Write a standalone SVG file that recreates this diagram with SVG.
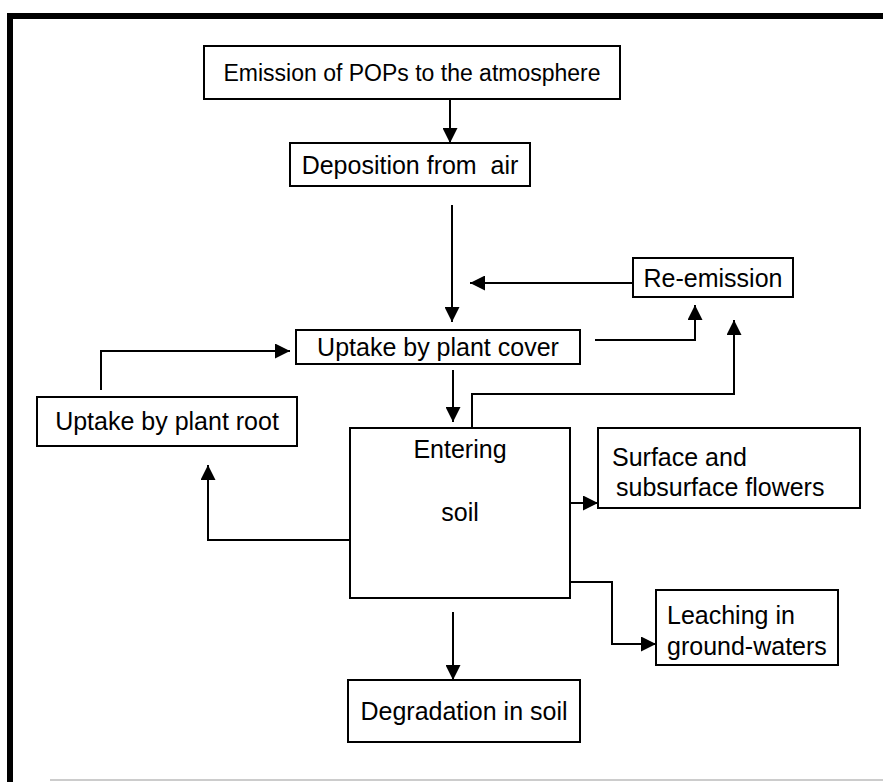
<svg xmlns="http://www.w3.org/2000/svg" width="883" height="782" viewBox="0 0 883 782">
<defs>
<marker id="ah" viewBox="0 0 10 10" refX="10" refY="5" markerWidth="15" markerHeight="15" markerUnits="userSpaceOnUse" orient="auto">
<path d="M0,0 L10,5 L0,10 Z" fill="#000"/>
</marker>
<style>
.box{fill:#fff;stroke:#000;stroke-width:2}
.t{font-family:"Liberation Sans",Arial,sans-serif;font-size:25px;fill:#000}
.s{font-size:23px}
.c{stroke:#000;stroke-width:2;fill:none;marker-end:url(#ah)}
</style>
</defs>
<rect width="883" height="782" fill="#fff"/>
<g id="frame">
<path d="M7,16 H883" stroke="#000" stroke-width="6"/>
<path d="M10,13 V782" stroke="#000" stroke-width="6"/>
<path d="M50,780 H883" stroke="#ccc" stroke-width="2"/>
</g>
<g id="emission"><rect class="box" x="204" y="46" width="416" height="53"/><text class="t s" x="412" y="81" text-anchor="middle">Emission of POPs to the atmosphere</text></g>
<g id="deposition"><rect class="box" x="290" y="143" width="240" height="43"/><text class="t" x="410" y="174" text-anchor="middle">Deposition from&#160; air</text></g>
<g id="reemission"><rect class="box" x="633" y="258" width="160" height="39"/><text class="t" x="713" y="287" text-anchor="middle">Re-emission</text></g>
<g id="cover"><rect class="box" x="296" y="330" width="284" height="34"/><text class="t" x="438" y="356" text-anchor="middle">Uptake by plant cover</text></g>
<g id="root"><rect class="box" x="37" y="397" width="260" height="49"/><text class="t" x="167" y="430" text-anchor="middle">Uptake by plant root</text></g>
<g id="entering"><rect class="box" x="350" y="428" width="220" height="170"/><text class="t" x="460" y="458" text-anchor="middle">Entering</text><text class="t" x="460" y="521" text-anchor="middle">soil</text></g>
<g id="surface"><rect class="box" x="598" y="428" width="262" height="80"/><text class="t" x="612" y="466">Surface and</text><text class="t" x="616" y="496">subsurface flowers</text></g>
<g id="leaching"><rect class="box" x="656" y="590" width="182" height="75"/><text class="t" x="667" y="624">Leaching in</text><text class="t" x="667" y="655">ground-waters</text></g>
<g id="degradation"><rect class="box" x="348" y="680" width="232" height="62"/><text class="t" x="464" y="720" text-anchor="middle">Degradation in soil</text></g>
<g id="connectors">
<path class="c" d="M450,99 V143"/>
<path class="c" d="M452,205 V322"/>
<path class="c" d="M633,283 H470"/>
<path class="c" d="M595,340 H695 V305"/>
<path class="c" d="M101,390 V351 H290"/>
<path class="c" d="M453,370 V422"/>
<path class="c" d="M472,428 V394 H734 V320"/>
<path class="c" d="M350,540 H208 V465"/>
<path class="c" d="M570,503 H598"/>
<path class="c" d="M570,582 H612 V644 H656"/>
<path class="c" d="M453,612 V680"/>
</g>
</svg>
